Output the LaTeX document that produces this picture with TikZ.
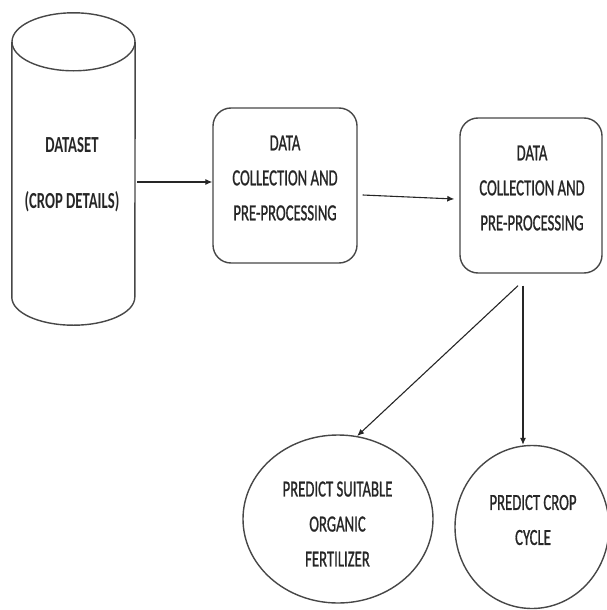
\documentclass[tikz,border=0pt]{standalone}
\usepackage{fontspec}
\setmainfont{Carlito}
\newfontfamily\medf{Carlito}[FakeBold=1.2]
\usetikzlibrary{arrows.meta,shapes.geometric,calc}
\newcommand{\cn}[1]{\scalebox{0.64}[1]{#1}}
\begin{document}
\begin{tikzpicture}[x=1pt,y=-1pt,
  ln/.style={draw=black!72, line width=1.4pt},
  arr/.style={draw=black!85, line width=1.1pt, -{Latex[length=7pt,width=6pt]}},
  txt/.style={text=black!85, font=\fontsize{23}{35}\selectfont\medf, align=center, inner sep=0pt},
]
\useasboundingbox (0,0) rectangle (606,610);
% cylinder
\node[minimum width=123pt, minimum height=312pt, inner sep=0pt] (ds) at (73.5,169) {};
\draw[ln] ([yshift=-29pt]ds.north west) -- ([yshift=28pt]ds.south west)
  arc[start angle=180, end angle=360, x radius=61.5pt, y radius=28pt]
  -- ([yshift=-29pt]ds.north east);
\draw[ln] ([yshift=-29pt]ds.north) ellipse[x radius=61.5pt, y radius=29pt];
\node[txt, font=\fontsize{23}{56}\selectfont\bfseries] (dst) at (72,175) {\cn{DATASET}\\\cn{(CROP DETAILS)}};
% boxes
\node[ln, rounded corners=18pt, minimum width=144pt, minimum height=155pt] (b1) at (285,185.5) {};
\node[txt] (b1t) at (285,178) {\cn{DATA}\\\cn{COLLECTION AND}\\\cn{PRE-PROCESSING}};
\node[ln, rounded corners=18pt, minimum width=142pt, minimum height=155pt] (b2) at (531,195.5) {};
\node[txt] (b2t) at (532,188) {\cn{DATA}\\\cn{COLLECTION AND}\\\cn{PRE-PROCESSING}};
% ellipses
\node[ln, ellipse, minimum width=190pt, minimum height=168pt, inner sep=0pt] (e1) at (338,519) {};
\node[txt] (e1t) at (337.5,524) {\cn{PREDICT SUITABLE}\\\cn{ORGANIC}\\\cn{FERTILIZER}};
\node[ln, ellipse, minimum width=154pt, minimum height=163pt, inner sep=0pt] (e2) at (532,527) {};
\node[txt] (e2t) at (533,520) {\cn{PREDICT CROP}\\\cn{CYCLE}};
% arrows
\draw[arr] ($(ds.east |- b1.west)+(2,-3.5)$) -- ($(b1.west)+(0,-3.5)$);
\draw[arr] ($(b1.east)+(5,9.5)$) -- ($(b2.west)+(-5,3.5)$);
\coordinate (c1) at ($(b2.south)+(-13,12)$);
\coordinate (c2) at ($(b2.south)+(-8,12)$);
\draw[arr] (c1) -- (e1.77);
\draw[arr] (c2) -- (c2 |- e2.north);
\end{tikzpicture}
\end{document}
